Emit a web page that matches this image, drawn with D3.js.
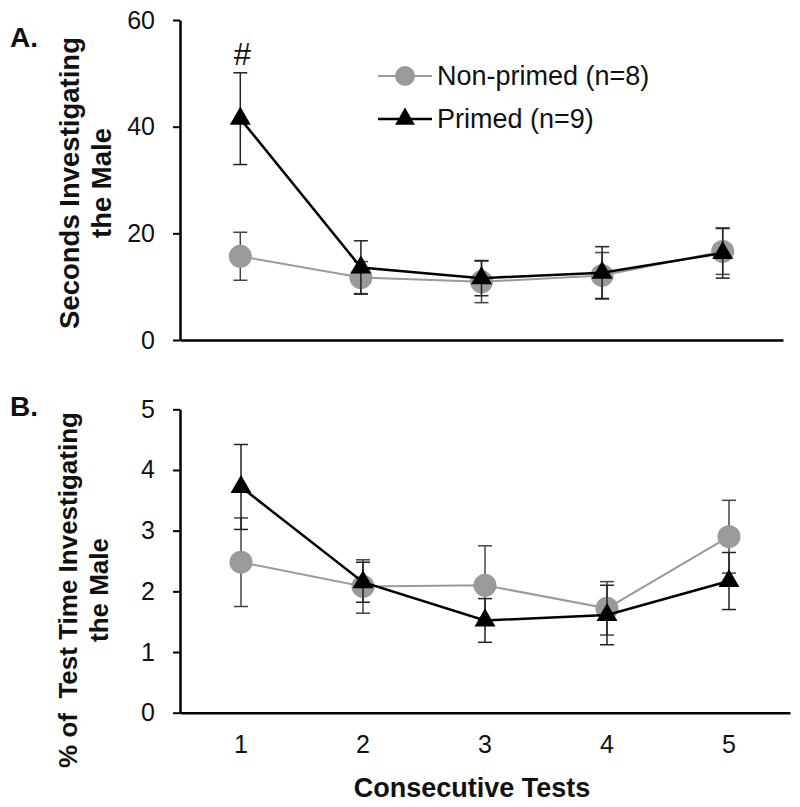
<!DOCTYPE html>
<html><head><meta charset="utf-8">
<script src="https://cdn.jsdelivr.net/npm/d3@7"></script>
<style>body{margin:0;background:#fff}svg{display:block}text{font-family:"Liberation Sans",Arial,sans-serif}</style>
</head><body>
<svg id="c" width="800" height="807"></svg>
<script>
const tests = ["1","2","3","4","5"];
const aTicks = [0,20,40,60];
const bTicks = [0,1,2,3,4,5];
const aNon = [15.7, 11.7, 10.9, 12.1, 16.6];
const aNonSE = [4.5, 3.0, 3.9, 4.3, 4.3];
const aPri = [41.5, 13.6, 11.6, 12.6, 16.3];
const aPriSE = [8.6, 5.0, 3.3, 4.9, 4.7];
const bNon = [2.48, 2.08, 2.10, 1.72, 2.90];
const bNonSE = [0.73, 0.44, 0.65, 0.44, 0.60];
const bPri = [3.72, 2.15, 1.52, 1.61, 2.17];
const bPriSE = [0.70, 0.33, 0.36, 0.49, 0.47];
const seriesNames = ["Non-primed (n=8)", "Primed (n=9)"];

const svg = d3.select("#c");
const GRAY = "#9a9a9a";

function panel(cfg){
  const x = d3.scaleBand().domain(tests).range([cfg.x0, cfg.x1]);
  const y = d3.scaleLinear().domain(cfg.domain).range([cfg.yb, cfg.yt]);
  const g = svg.append("g");
  const ya = g.append("g").attr("transform",`translate(${cfg.x0},0)`)
    .call(d3.axisLeft(y).tickValues(cfg.ticks).tickFormat(d3.format("d")).tickSize(7).tickPadding(18).tickSizeOuter(0));
  ya.select(".domain").attr("stroke","#000").attr("stroke-width",2.5);
  ya.selectAll(".tick line").attr("stroke","#000").attr("stroke-width",2);
  ya.selectAll(".tick text").attr("font-size",25).attr("fill","#111")
    .attr("font-family","Liberation Sans, Arial, sans-serif");
  const xa = g.append("g").attr("transform",`translate(0,${cfg.yb})`)
    .call(d3.axisBottom(x).tickSize(0).tickPadding(23).tickSizeOuter(0));
  xa.select(".domain").attr("stroke","#000").attr("stroke-width",2.5);
  xa.selectAll(".tick text").attr("font-size",25).attr("fill","#111")
    .attr("font-family","Liberation Sans, Arial, sans-serif")
    .style("display", cfg.xlabels ? null : "none");
  const cx = (d,i)=> x(tests[i]) + x.bandwidth()/2;
  function series(vals, se, color, lw, marker, ebColor){
    const eg = g.append("g").attr("stroke",ebColor).attr("stroke-width",1.5).attr("fill","none");
    vals.forEach((v,i)=>{
      const X = cx(v,i), top = y(v+se[i]), bot = y(v-se[i]);
      eg.append("line").attr("x1",X).attr("x2",X).attr("y1",top).attr("y2",bot);
      eg.append("line").attr("x1",X-7).attr("x2",X+7).attr("y1",top).attr("y2",top);
      eg.append("line").attr("x1",X-7).attr("x2",X+7).attr("y1",bot).attr("y2",bot);
    });
    g.append("path").datum(vals)
      .attr("d", d3.line().x((d,i)=>cx(d,i)).y(d=>y(d)))
      .attr("fill","none").attr("stroke",color).attr("stroke-width",lw);
    if(marker==="circle"){
      g.selectAll(null).data(vals).enter().append("circle")
        .attr("cx",(d,i)=>cx(d,i)).attr("cy",d=>y(d)).attr("r",11.5).attr("fill",color);
    } else {
      g.selectAll(null).data(vals).enter().append("path")
        .attr("d", d3.symbol().type(d3.symbolTriangle).size(190))
        .attr("transform",(d,i)=>`translate(${cx(d,i)},${y(d)})`).attr("fill","#000");
    }
  }
  series(cfg.non, cfg.nonSE, GRAY, 2, "circle", "#444");
  series(cfg.pri, cfg.priSE, "#000", 2.5, "tri", "#222");
  const t = g.append("text").attr("transform",`translate(0,${cfg.tc}) rotate(-90)`)
    .attr("text-anchor","middle").attr("font-weight","bold").attr("font-size",cfg.tfs).attr("fill","#111");
  t.append("tspan").attr("x",0).attr("y",cfg.t1).text(cfg.title[0]);
  t.append("tspan").attr("x",0).attr("y",cfg.t2).text(cfg.title[1]);
  g.append("text").attr("x",10).attr("y",cfg.lblY).attr("font-size",28).attr("font-weight","bold")
    .attr("fill","#111").text(cfg.label);
  return {x,y,cx};
}

const A = panel({x0:180,x1:783,yb:340,yt:20,domain:[0,60],ticks:aTicks,xlabels:false,
  non:aNon,nonSE:aNonSE,pri:aPri,priSE:aPriSE,tc:183,t1:79,t2:111,tfs:27.5,
  title:["Seconds Investigating","the Male"],label:"A.",lblY:47});
const B = panel({x0:180,x1:790,yb:712.7,yt:409.3,domain:[0,5],ticks:bTicks,xlabels:true,
  non:bNon,nonSE:bNonSE,pri:bPri,priSE:bPriSE,tc:590,t1:77,t2:108,tfs:26,
  title:["% of\u00a0 Test Time Investigating","the Male"],label:"B.",lblY:416});

svg.append("text").attr("x",A.cx(aPri[0],0)+2).attr("y",65).attr("text-anchor","middle")
  .attr("font-size",31).attr("fill","#111").text("#");

svg.append("text").attr("x",472).attr("y",797).attr("text-anchor","middle")
  .attr("font-weight","bold").attr("font-size",27).attr("fill","#111").text("Consecutive Tests");

const leg = svg.append("g");
const rows = [{y:76,color:GRAY,lw:2,m:"circle"},{y:119,color:"#000",lw:2.5,m:"tri"}];
rows.forEach((r,i)=>{
  leg.append("line").attr("x1",378).attr("x2",432).attr("y1",r.y).attr("y2",r.y)
    .attr("stroke",r.color).attr("stroke-width",r.lw);
  if(r.m==="circle") leg.append("circle").attr("cx",405).attr("cy",r.y).attr("r",10).attr("fill",r.color);
  else leg.append("path").attr("d",d3.symbol().type(d3.symbolTriangle).size(170)())
    .attr("transform",`translate(405,${r.y})`).attr("fill","#000");
  leg.append("text").attr("x",437).attr("y",r.y+9).attr("font-size",27).attr("fill","#111").text(seriesNames[i]);
});
</script>
</body></html>
